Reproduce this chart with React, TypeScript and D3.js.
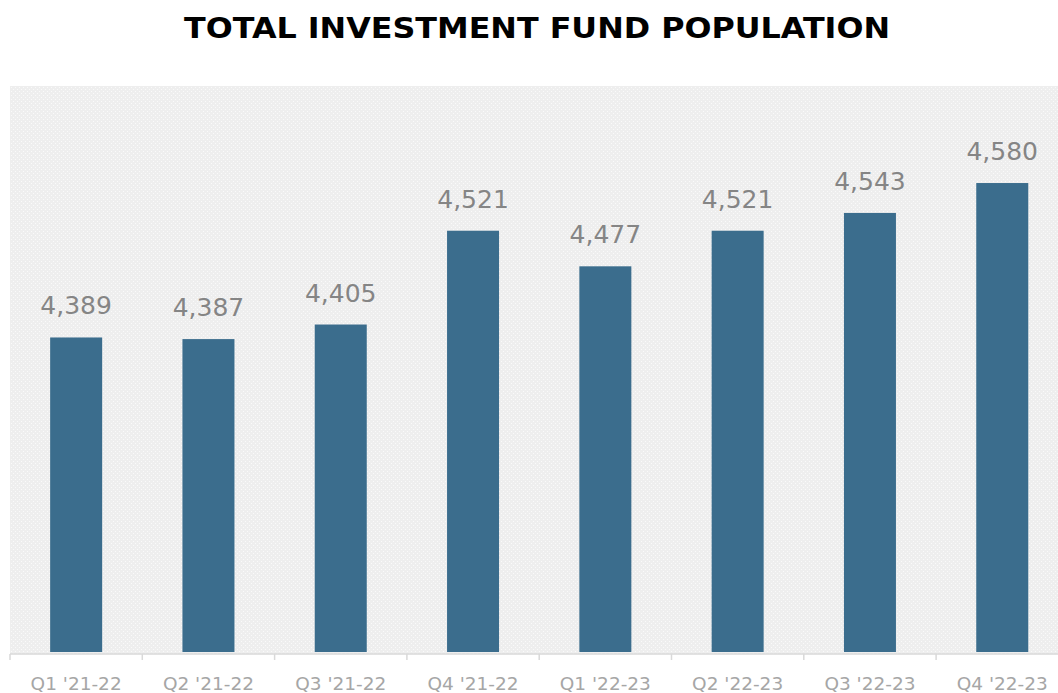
import { useEffect, useRef } from "react";
import * as d3 from "d3";

const quarters = [
  "Q1 '21-22",
  "Q2 '21-22",
  "Q3 '21-22",
  "Q4 '21-22",
  "Q1 '22-23",
  "Q2 '22-23",
  "Q3 '22-23",
  "Q4 '22-23",
];
const fundCounts = [4389, 4387, 4405, 4521, 4477, 4521, 4543, 4580];
const yDomain = [4000, 4700];

const WIDTH = 1058;
const HEIGHT = 693;

export default function App() {
  const svgRef = useRef<SVGSVGElement | null>(null);

  useEffect(() => {
    if (!svgRef.current) return;
    const margin = { top: 86, right: 0, bottom: 41, left: 10 };
    const baseY = HEIGHT - margin.bottom;

    const x = d3
      .scaleBand<string>()
      .domain(quarters)
      .range([margin.left, margin.left + 8 * 132.3])
      .padding(0);
    const y = d3.scaleLinear().domain(yDomain).range([baseY, margin.top]);
    const barW = 52;

    const svg = d3.select(svgRef.current);
    svg.selectAll("*").remove();
    svg.attr("width", WIDTH).attr("height", HEIGHT).style("background", "#ffffff");

    // dotted plot background
    const defs = svg.append("defs");
    const pat = defs
      .append("pattern")
      .attr("id", "dots")
      .attr("width", 4)
      .attr("height", 4)
      .attr("patternUnits", "userSpaceOnUse");
    pat.append("rect").attr("width", 4).attr("height", 4).attr("fill", "#eeeeee");
    pat.append("rect").attr("x", 1).attr("y", 1).attr("width", 1).attr("height", 1).attr("fill", "#fafafa");
    pat.append("rect").attr("x", 3).attr("y", 3).attr("width", 1).attr("height", 1).attr("fill", "#fafafa");

    svg
      .append("rect")
      .attr("x", margin.left)
      .attr("y", margin.top)
      .attr("width", WIDTH - margin.left)
      .attr("height", baseY - margin.top + 2)
      .attr("fill", "url(#dots)");

    svg
      .append("text")
      .attr("x", 537)
      .attr("y", 38)
      .attr("text-anchor", "middle")
      .attr("font-family", "DejaVu Sans, Verdana, sans-serif")
      .attr("font-weight", 900)
      .attr("font-size", 29)
      .attr("textLength", 706)
      .attr("lengthAdjust", "spacingAndGlyphs")
      .attr("fill", "#000000")
      .text("TOTAL INVESTMENT FUND  POPULATION");

    const data = quarters.map((q, i) => ({ q, v: fundCounts[i] }));

    svg
      .append("g")
      .selectAll("rect")
      .data(data)
      .join("rect")
      .attr("x", (d) => (x(d.q) as number) + x.bandwidth() / 2 - barW / 2)
      .attr("y", (d) => y(d.v))
      .attr("width", barW)
      .attr("height", (d) => baseY - y(d.v))
      .attr("fill", "#3b6d8d");

    svg
      .append("g")
      .selectAll("text")
      .data(data)
      .join("text")
      .attr("x", (d) => (x(d.q) as number) + x.bandwidth() / 2)
      .attr("y", (d) => y(d.v) - 23)
      .attr("text-anchor", "middle")
      .attr("font-family", "DejaVu Sans, Verdana, sans-serif")
      .attr("font-size", 25)
      .attr("fill", "#858585")
      .text((d) => d3.format(",")(d.v));

    // axis
    const axisY = baseY + 2;
    const axis = svg.append("g");
    axis
      .append("line")
      .attr("x1", margin.left)
      .attr("x2", WIDTH)
      .attr("y1", axisY)
      .attr("y2", axisY)
      .attr("stroke", "#d9d9d9")
      .attr("stroke-width", 1.5);
    axis
      .selectAll("line.tick")
      .data(quarters)
      .join("line")
      .attr("class", "tick")
      .attr("x1", (q) => x(q) as number)
      .attr("x2", (q) => x(q) as number)
      .attr("y1", axisY)
      .attr("y2", axisY + 6)
      .attr("stroke", "#d9d9d9")
      .attr("stroke-width", 1.5);
    axis
      .selectAll("text")
      .data(quarters)
      .join("text")
      .attr("x", (q) => (x(q) as number) + x.bandwidth() / 2)
      .attr("y", 690)
      .attr("text-anchor", "middle")
      .attr("font-family", "DejaVu Sans, Verdana, sans-serif")
      .attr("font-size", 18.5)
      .attr("fill", "#a6a6a6")
      .text((q) => q);
  }, []);

  return (
    <div style={{ position: "fixed", left: 0, top: 0, width: WIDTH, height: HEIGHT, overflow: "hidden" }}>
      <svg ref={svgRef} style={{ display: "block" }} />
    </div>
  );
}
